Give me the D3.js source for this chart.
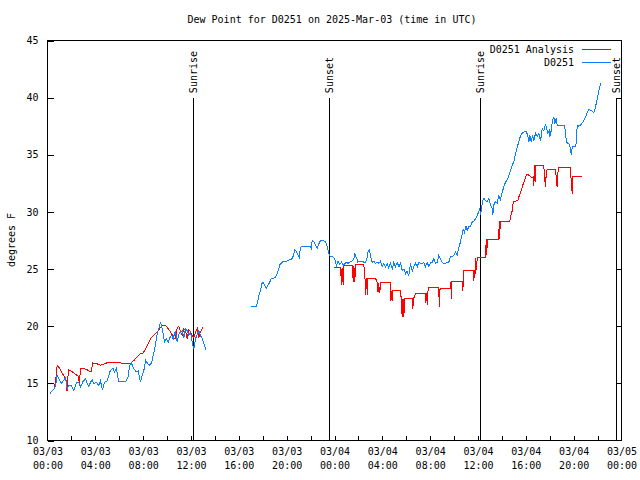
<!DOCTYPE html>
<html><head><meta charset="utf-8">
<script src="https://cdn.jsdelivr.net/npm/d3@7"></script>
<style>
body{margin:0;background:#fff;}
svg text{font-family:"DejaVu Sans Mono",monospace;font-size:10px;fill:#000;}
</style></head><body>
<svg id="c" width="640" height="480"></svg>
<script>
// ---- data (hours since 2025-03-03 00:00 UTC, degrees F) ----
const chartTitle = "Dew Point for D0251 on 2025-Mar-03 (time in UTC)";
const yTicks = [10,15,20,25,30,35,40,45];
const xLabelHours = [0,4,8,12,16,20,24,28,32,36,40,44,48];
const xLabelDates = ["03/03","03/03","03/03","03/03","03/03","03/03","03/04","03/04","03/04","03/04","03/04","03/04","03/05"];
const sunHours = [12.25, 23.57, 36.25, 47.62];
const sunNames = ["Sunrise","Sunset","Sunrise","Sunset"];

const obsHours = [0.19,0.53,0.67,0.81,0.94,1.15,1.31,1.51,1.65,1.78,1.98,2.20,2.43,2.62,2.76,2.99,3.18,3.32,3.45,3.60,3.74,3.87,4.10,4.29,4.43,4.60,4.77,4.99,5.21,5.33,5.49,5.60,5.77,5.94,6.10,6.33,6.55,6.72,6.88,7.00,7.22,7.42,7.58,7.78,7.92,8.05,8.22,8.39,8.55,8.70,8.81,8.95,9.06,9.17,9.31,9.45,9.56,9.68,9.78,9.95,10.09,10.23,10.37,10.51,10.68,10.85,10.98,11.12,11.26,11.40,11.54,11.68,11.82,11.96,12.10,12.23,12.38,12.52,12.65,12.79,12.94,13.07,13.27,
 15.0,
 16.98,17.48,17.59,17.70,17.81,17.95,18.04,18.15,18.29,18.42,18.57,18.71,18.92,19.07,19.21,19.34,19.43,19.54,19.71,19.99,20.18,20.46,20.60,20.68,20.82,20.93,21.05,21.16,21.30,21.58,21.94,22.05,22.14,22.27,22.41,22.55,22.69,22.83,23.06,23.25,23.39,23.47,23.56,23.67,23.81,23.94,24.03,24.18,24.29,24.44,24.59,24.73,24.88,25.00,25.13,25.28,25.48,25.61,25.70,25.84,25.95,26.12,26.32,26.45,26.59,26.74,26.82,26.93,27.01,27.15,27.29,27.43,27.57,27.71,27.85,27.99,28.12,28.27,28.41,28.54,28.68,28.83,28.96,29.10,29.24,29.38,29.52,29.66,29.80,29.94,30.08,30.21,30.36,30.50,30.63,30.77,30.92,31.05,31.19,31.33,31.47,31.61,31.75,31.89,32.03,32.17,32.30,32.45,32.59,32.72,32.86,33.01,33.14,33.28,33.43,33.56,33.70,33.84,33.98,34.12,34.26,34.40,34.54,34.68,34.76,34.87,34.98,35.10,35.23,35.37,35.51,35.65,35.79,35.93,36.07,36.15,36.21,36.30,36.38,36.49,36.63,36.77,36.91,37.05,37.19,37.24,37.32,37.46,37.61,37.74,37.88,38.02,38.16,38.30,38.44,38.58,38.72,38.86,39.00,39.14,39.28,39.41,39.56,39.70,39.83,40.06,40.17,40.25,40.34,40.45,40.56,40.67,40.81,40.96,41.09,41.23,41.37,41.50,41.65,41.73,41.84,41.96,42.01,42.12,42.23,42.34,42.42,42.54,42.62,42.90,43.23,43.29,43.40,43.51,43.65,43.74,43.80,43.88,44.18,44.30,44.43,44.57,44.72,44.85,44.99,45.13,45.27,45.41,45.55,45.69,45.83,45.97,46.10,46.25,46.30];
const obsValues = [14.1,14.5,14.8,15.7,15.4,15.0,15.2,15.5,14.5,14.8,14.8,14.4,15.1,15.1,14.7,15.2,15.4,15.0,14.7,15.1,15.3,15.0,15.1,14.8,15.2,14.4,15.1,15.2,16.0,16.2,16.3,16.0,16.3,15.2,15.2,15.2,15.2,15.5,16.6,16.8,16.3,16.0,16.1,15.1,15.7,16.1,17.0,16.7,16.6,16.8,17.3,17.9,18.6,19.3,19.8,20.4,19.9,19.3,18.6,18.9,18.6,19.0,19.2,18.9,19.6,18.6,19.3,19.5,19.6,19.0,19.8,19.6,19.2,19.5,18.6,18.0,18.9,19.3,19.6,19.2,18.9,18.5,17.9,
 null,
 21.75,21.75,22.2,22.8,23.1,23.8,23.8,23.6,23.3,23.6,23.8,24.2,24.2,24.3,24.6,25.0,25.4,25.5,25.7,25.7,25.8,25.9,26.3,26.7,26.5,26.3,26.0,26.9,27.0,27.0,27.0,26.8,27.5,27.4,27.1,26.8,27.2,27.5,27.5,27.4,27.0,26.6,26.2,26.1,26.1,26.0,25.8,25.3,25.7,25.4,25.6,25.3,25.5,25.6,25.5,25.6,25.7,25.9,26.3,26.0,25.6,25.7,25.7,25.6,25.6,26.0,26.6,26.7,26.1,25.6,25.7,25.5,25.6,25.5,25.7,25.2,25.5,25.2,25.5,25.1,25.5,25.0,25.6,25.2,25.6,25.2,25.5,24.9,25.0,24.6,24.8,24.4,25.5,24.8,25.2,25.5,25.2,25.6,25.5,25.5,25.6,25.2,25.6,25.2,25.6,25.6,25.9,25.5,25.6,26.2,25.9,25.6,25.5,25.5,25.6,25.6,26.1,26.1,26.2,26.5,26.2,26.9,27.4,28.1,28.5,28.2,28.8,28.4,28.7,28.7,29.1,29.2,29.4,29.7,30.0,30.3,29.7,30.4,30.9,31.2,31.0,30.9,31.2,30.6,30.3,29.7,30.6,30.9,30.8,31.4,31.1,31.7,32.2,32.6,32.8,33.2,33.6,34.1,34.4,35.1,35.7,36.1,36.7,36.9,37.0,37.0,36.6,36.1,36.7,36.1,36.7,36.2,36.9,36.6,36.9,36.2,37.3,37.1,37.7,37.3,36.9,37.1,36.6,37.1,38.0,38.3,37.7,38.2,37.6,37.6,37.6,37.2,36.1,36.0,35.9,35.4,35.0,35.7,35.7,37.6,37.5,37.6,37.8,38.0,38.3,38.7,39.0,38.9,38.8,38.7,39.2,39.9,40.6,41.2,41.3];

const anaHours = [0.59,0.71,0.81,0.96,1.17,1.34,1.51,1.59,1.63,1.67,1.78,2.07,2.34,2.59,2.66,2.76,3.01,3.32,3.54,3.70,3.74,4.16,4.43,4.71,4.99,5.44,6.10,6.52,6.88,7.22,7.50,7.78,7.94,8.14,8.34,8.61,8.89,9.17,9.45,9.64,9.81,10.01,10.29,10.56,10.70,10.85,10.98,11.12,11.26,11.40,11.54,11.68,11.82,11.96,12.10,12.23,12.38,12.52,12.65,12.79,12.94,13.02,
 18.0,
 23.94,24.50,24.59,24.63,24.73,24.78,25.48,25.57,25.62,25.70,25.76,26.45,26.55,26.59,26.68,26.74,26.79,27.43,27.57,27.64,27.68,27.79,27.85,28.69,28.71,28.81,28.85,28.88,29.52,29.58,29.66,29.73,29.80,29.86,30.50,30.55,30.61,30.78,31.61,31.64,31.70,31.75,31.84,32.72,32.76,32.82,32.87,33.70,33.73,33.76,33.81,34.68,34.73,34.82,35.60,35.65,35.71,35.74,35.79,35.85,35.94,36.63,36.69,36.74,36.77,37.74,37.77,37.80,37.84,37.88,37.91,38.66,38.72,38.86,38.95,39.33,39.41,39.56,39.70,39.83,39.97,40.06,40.17,40.25,40.53,40.64,40.67,40.73,40.78,40.81,41.50,41.56,41.65,41.71,41.79,42.48,42.61,42.65,42.76,43.74,43.80,43.88,43.93,44.72];
const anaValues = [14.7,15.5,16.6,16.4,16.0,15.7,15.4,15.2,14.3,15.2,16.2,16.0,15.8,15.6,15.0,16.3,16.3,16.2,16.0,16.0,16.8,16.7,16.6,16.7,16.8,16.8,16.8,16.7,16.7,17.0,17.3,17.6,17.6,17.9,18.3,18.9,19.2,19.5,19.9,20.1,20.1,19.9,19.5,19.0,18.9,19.9,20.0,19.5,19.2,19.8,19.6,18.9,19.7,19.5,19.2,19.0,19.5,19.8,19.0,19.5,19.8,19.9,
 null,
 25.1,25.1,23.6,25.1,23.6,25.3,25.3,23.9,25.3,23.9,25.4,25.4,24.2,22.7,24.2,22.7,24.2,24.2,23.8,23.0,23.8,22.9,23.8,23.8,22.2,23.1,22.2,23.1,23.1,22.4,20.8,22.4,20.8,22.4,22.4,21.5,22.4,22.9,22.9,22.0,22.9,21.9,23.4,23.4,21.7,23.2,23.3,23.3,23.9,22.4,23.9,23.9,23.1,24.9,24.9,24.0,24.9,24.2,26.0,24.9,26.0,26.0,27.6,26.2,27.6,27.6,29.2,27.6,29.2,28.5,29.2,29.2,29.6,30.1,30.9,31.0,31.3,31.7,32.2,32.6,33.0,33.3,33.3,33.2,33.0,33.1,32.3,34.1,32.6,34.1,34.1,33.0,32.2,33.5,33.7,33.7,32.2,33.3,33.9,33.9,32.5,31.6,33.1,33.1];

const seriesNames = ["D0251 Analysis","D0251"];
const seriesColors = ["#ff0000","#0a80ff"];

// ---- drawing ----
const svg = d3.select("#c");
const L=47, R=621, T=40, B=440;
const x = d3.scaleLinear().domain([0,48]).range([L,R]);
const y = d3.scaleLinear().domain([10,45]).range([B,T]);
const g = svg.append("g").attr("transform","translate(0.5,0.5)").attr("shape-rendering","crispEdges");

svg.append("text").attr("x",332).attr("y",23).attr("text-anchor","middle").text(chartTitle);
svg.append("text").attr("transform","translate(15,240) rotate(-90)").attr("text-anchor","middle").text("degrees F");

// axes
const yAxisL = d3.axisLeft(y).tickValues(yTicks).tickSize(-6).tickPadding(9).tickFormat(d3.format("d"));
const gyl = g.append("g").attr("transform",`translate(${L},0)`).call(yAxisL);
const gyr = g.append("g").attr("transform",`translate(${R},0)`).call(d3.axisRight(y).tickValues(yTicks.slice(1,-1)).tickSize(-6).tickFormat(""));
const xTickHours = d3.range(2,48,2);
const gxm = g.append("g").attr("transform",`translate(0,${B})`).call(d3.axisBottom(x).tickValues(xTickHours).tickSize(-5).tickFormat(""));
const gx = g.append("g").attr("transform",`translate(0,${B})`).call(d3.axisBottom(x).tickValues(xLabelHours).tickSize(0).tickPadding(10).tickFormat(""));
[gyl,gyr,gxm,gx].forEach(a=>{a.select(".domain").remove();a.selectAll("line").attr("stroke","#000");a.selectAll("text").attr("font-family",null).attr("font-size",null).attr("fill","#000");});
gx.selectAll(".tick").each(function(d,i){
  const t=d3.select(this).select("text").attr("dy",null).attr("y",null);
  t.append("tspan").attr("x",0).attr("y",14).text(xLabelDates[i]);
  t.append("tspan").attr("x",0).attr("y",28).text(String(xLabelHours[i]%24).padStart(2,"0")+":00");
});

// sunrise/sunset
sunHours.forEach((h,i)=>{
  g.append("line").attr("x1",Math.round(x(h))).attr("x2",Math.round(x(h))).attr("y1",y(40)).attr("y2",B).attr("stroke","#000");
  svg.append("text").attr("transform",`translate(${Math.round(x(h))+4},${y(40)-4}) rotate(-90)`).attr("text-anchor","start").text(sunNames[i]);
});

// series
const mk = (hs,vs)=>hs.map((h,i)=>({h,v:vs[i]}));
const line = d3.line().defined(d=>d.v!=null).x(d=>x(d.h)).y(d=>y(d.v));
g.append("path").datum(mk(anaHours,anaValues)).attr("d",line).attr("fill","none").attr("stroke",seriesColors[0]).attr("stroke-width",1);
g.append("path").datum(mk(obsHours,obsValues)).attr("d",line).attr("fill","none").attr("stroke",seriesColors[1]).attr("stroke-width",1);

// border
g.append("rect").attr("x",L).attr("y",T).attr("width",R-L).attr("height",B-T).attr("fill","none").attr("stroke","#000");

// legend
seriesNames.forEach((n,i)=>{
  const ly = 49 + i*13;
  svg.append("text").attr("x",574).attr("y",ly).attr("dy","0.35em").attr("text-anchor","end").text(n);
  g.append("line").attr("x1",581).attr("x2",610).attr("y1",ly).attr("y2",ly).attr("stroke",seriesColors[i]);
});
</script></body></html>
